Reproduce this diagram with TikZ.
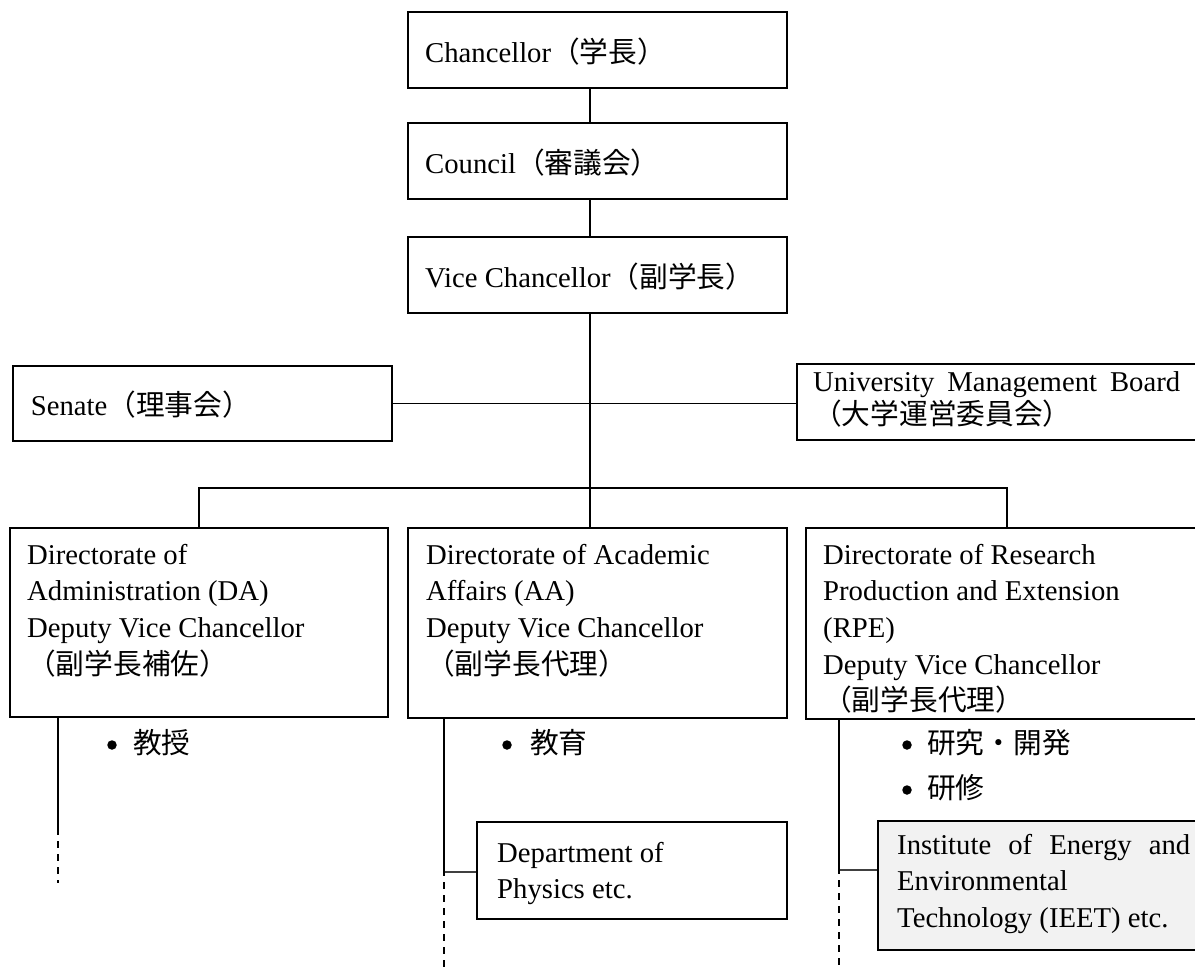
\documentclass[tikz,border=0pt]{standalone}
\usepackage{fontspec}
\setmainfont{Liberation Serif}
\newfontfamily\jp{Noto Sans CJK JP}
\definecolor{instfill}{HTML}{F2F2F2}
\begin{document}
\begin{tikzpicture}[x=1pt,y=-1pt,
  box/.style={draw, line width=1.3pt, rectangle, inner sep=0pt},
  txt/.style={inner sep=0pt, anchor=base west, font=\fontsize{28.7}{36.7}\selectfont},
  link/.style={line width=1.3pt},
  sublink/.style={line width=1.1pt, black!75},
  dashlink/.style={line width=1.3pt, dash pattern=on 6.5pt off 6.5pt},
  dot/.style={circle, fill=black, inner sep=0pt, minimum size=9.5pt}]
\useasboundingbox (0,0) rectangle (1195,971);

% ---- boxes ----
\node[box, minimum width=379pt, minimum height=76pt] (chan) at (597.5,50) {};
\node[box, minimum width=379pt, minimum height=76pt] (coun) at (597.5,161) {};
\node[box, minimum width=379pt, minimum height=76pt] (vc)   at (597.5,275) {};
\node[box, minimum width=379pt, minimum height=75pt] (sen)  at (202.5,403.5) {};
\node[box, minimum width=399pt, minimum height=76pt] (umb)  at (996.5,402) {};
\node[box, minimum width=378pt, minimum height=189pt] (da)  at (199,622.5) {};
\node[box, minimum width=379pt, minimum height=190pt] (aa)  at (597.5,623) {};
\node[box, minimum width=402pt, minimum height=191pt] (rpe) at (1007,623.5) {};
\node[box, minimum width=310pt, minimum height=97pt] (dept) at (632,870.5) {};
\node[box, fill=instfill, minimum width=332pt, minimum height=129pt] (ieet) at (1044,885.5) {};

% ---- junction points ----
\coordinate (sp)  at (590,0);
\coordinate (bus) at (0,488);
\coordinate (rx)  at (1007,0);
\coordinate (daend) at (58,828);
\coordinate (datail) at (58,883);
\coordinate (aaj) at (444,872);
\coordinate (aatail) at (444,971);
\coordinate (rpj) at (839,870);
\coordinate (rptail) at (839,971);

% ---- connectors ----
\draw[link] (chan.south -| sp) -- (coun.north -| sp);
\draw[link] (coun.south -| sp) -- (vc.north -| sp);
\draw[link] (vc.south -| sp) -- (sp |- bus);
\draw[link] (sen.east) -- (sen.east -| umb.west);
\draw[link] (da.north) -- (da.north |- bus) -- (bus -| rx) -- (rpe.north -| rx);
\draw[link] (sp |- bus) -- (aa.north -| sp);

\draw[link] (da.south -| daend) -- (daend);
\draw[dashlink] (daend) -- (datail);

\draw[link] (aa.south -| aaj) -- (aaj);
\draw[sublink] (aaj) -- (aaj -| dept.west);
\draw[dashlink] ([yshift=3pt]aaj) -- (aatail);

\draw[link] (rpe.south -| rpj) -- (rpj);
\draw[sublink] (rpj) -- (rpj -| ieet.west);
\draw[dashlink] ([yshift=3pt]rpj) -- (rptail);

% ---- labels ----
\node[txt] (chan-t) at (425,62.5) {Chancellor{\jp（学長）}};
\node[txt] (coun-t) at (425,173.5) {Council{\jp（審議会）}};
\node[txt] (vc-t)   at (425,287.5) {Vice Chancellor{\jp（副学長）}};
\node[txt] (sen-t)  at (30.7,415.5) {Senate{\jp（理事会）}};
\node[txt] (umb-1)  at (813,391) {\makebox[367pt][s]{University Management Board}};
\node[txt] (umb-2)  at (813,424) {\jp（大学運営委員会）};

\foreach \t [count=\i] in {Directorate of, Administration (DA), Deputy Vice Chancellor, {\jp（副学長補佐）}}
  \node[txt] (da-\i) at (27,{564+36.7*(\i-1)}) {\t};
\foreach \t [count=\i] in {Directorate of Academic, Affairs (AA), Deputy Vice Chancellor, {\jp（副学長代理）}}
  \node[txt] (aa-\i) at (426,{564+36.7*(\i-1)}) {\t};
\foreach \t [count=\i] in {Directorate of Research, Production and Extension, (RPE), Deputy Vice Chancellor, {\jp（副学長代理）}}
  \node[txt] (rpe-\i) at (823,{564+36.7*(\i-1)}) {\t};

\node[txt] (dept-1) at (497,862) {Department of};
\node[txt] (dept-2) at (497,898.7) {Physics etc.};
\node[txt] (ieet-1) at (897,854) {\makebox[293pt][s]{Institute of Energy and}};
\node[txt] (ieet-2) at (897,890.7) {Environmental};
\node[txt] (ieet-3) at (897,927.4) {Technology (IEET) etc.};

% ---- bullet items ----
\node[dot] (d1) at (112,745) {};
\node[txt] (b1) at (133,753) {\jp 教授};
\node[dot] (d2) at (507,745) {};
\node[txt] (b2) at (530,753) {\jp 教育};
\node[dot] (d3) at (907,745) {};
\node[txt] (b3) at (927,753) {\jp 研究・開発};
\node[dot] (d4) at (907,790) {};
\node[txt] (b4) at (927,798) {\jp 研修};
\end{tikzpicture}
\end{document}
